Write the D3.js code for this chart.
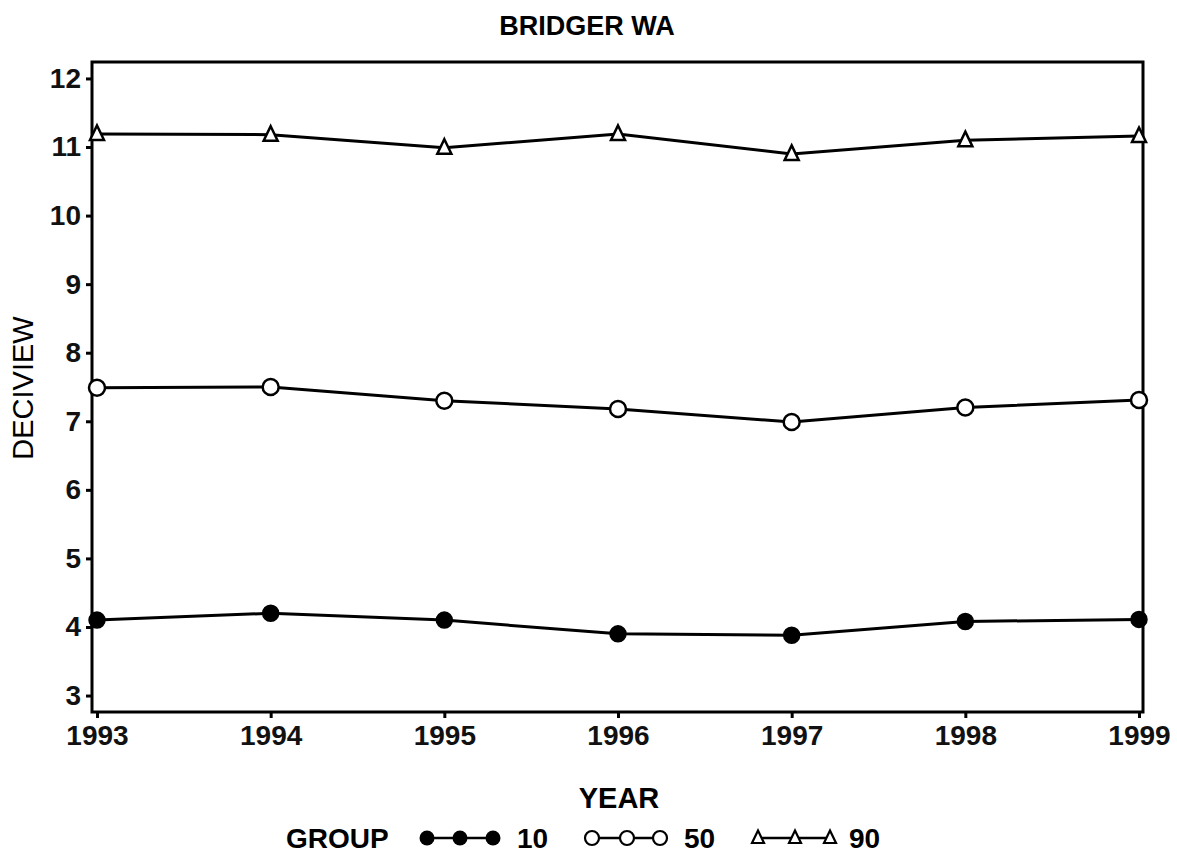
<!DOCTYPE html>
<html>
<head>
<meta charset="utf-8">
<script src="https://cdn.jsdelivr.net/npm/d3@7"></script>
<style>
  body { margin: 0; background: #fff; }
  svg { font-family: "Liberation Sans", Arial, sans-serif; }
</style>
</head>
<body>
<svg id="chart" width="1177" height="857"></svg>
<script>
// data
var years = [1993, 1994, 1995, 1996, 1997, 1998, 1999]
var groups = ["10", "50", "90"]
var p10 = [4.10, 4.20, 4.10, 3.90, 3.88, 4.08, 4.11]
var p50 = [7.49, 7.50, 7.30, 7.18, 6.99, 7.20, 7.31]
var p90 = [11.19, 11.18, 10.99, 11.19, 10.90, 11.10, 11.16]
var yTicks = [3, 4, 5, 6, 7, 8, 9, 10, 11, 12]

var series = [
    {name: groups[0], values: p10, marker: "dot"},
    {name: groups[1], values: p50, marker: "circle"},
    {name: groups[2], values: p90, marker: "triangle"}
]

var svg = d3.select("#chart")
var frame = {left: 92, right: 1143, top: 62, bottom: 712}

var x = d3.scaleLinear().domain([1993, 1999]).range([97, 1139])
var y = d3.scaleLinear().domain([2.76, 12.24]).range([frame.bottom, frame.top])

// frame
svg.append("rect")
    .attr("x", frame.left).attr("y", frame.top)
    .attr("width", frame.right - frame.left)
    .attr("height", frame.bottom - frame.top)
    .attr("fill", "none").attr("stroke", "#000").attr("stroke-width", 3)

// axes
var yAxis = svg.append("g")
    .attr("transform", "translate(" + frame.left + ",0)")
    .call(d3.axisLeft(y).tickValues(yTicks).tickSize(6).tickPadding(5).tickFormat(d3.format("d")))
var xAxis = svg.append("g")
    .attr("transform", "translate(0," + frame.bottom + ")")
    .call(d3.axisBottom(x).tickValues(years).tickSize(6).tickPadding(7).tickFormat(d3.format("d")))

;[xAxis, yAxis].forEach(function(ax) {
    ax.select(".domain").remove()
    ax.selectAll(".tick line").attr("stroke", "#000").attr("stroke-width", 3)
    ax.selectAll(".tick text")
        .attr("fill", "#111")
        .style("font-size", "28px")
        .style("font-weight", "bold")
        .style("font-family", "Liberation Sans, Arial, sans-serif")
})

// titles
svg.append("text").attr("x", 587).attr("y", 35)
    .attr("text-anchor", "middle")
    .style("font-size", "27px").style("font-weight", "bold")
    .text("BRIDGER WA")
svg.append("text").attr("x", 619).attr("y", 808)
    .attr("text-anchor", "middle")
    .style("font-size", "29px").style("font-weight", "bold")
    .text("YEAR")
svg.append("text")
    .attr("transform", "translate(33,388) rotate(-90)")
    .attr("text-anchor", "middle")
    .style("font-size", "29px")
    .text("DECIVIEW")

function drawMarker(g, type, cx, cy) {
    if (type === "dot") {
        g.append("circle").attr("cx", cx).attr("cy", cy).attr("r", 8)
            .attr("fill", "#000").attr("stroke", "#000").attr("stroke-width", 1.5)
    } else if (type === "circle") {
        g.append("circle").attr("cx", cx).attr("cy", cy).attr("r", 8)
            .attr("fill", "#fff").attr("stroke", "#000").attr("stroke-width", 2.5)
    } else {
        var s = 7
        g.append("path")
            .attr("d", "M" + cx + "," + (cy - s - 1.5) + "L" + (cx + s) + "," + (cy + s - 1) + "L" + (cx - s) + "," + (cy + s - 1) + "Z")
            .attr("fill", "#fff").attr("stroke", "#000").attr("stroke-width", 2.5)
    }
}

var line = d3.line()
    .x(function(d, i) { return x(years[i]) })
    .y(function(d) { return y(d) })

series.forEach(function(s) {
    svg.append("path").datum(s.values)
        .attr("d", line)
        .attr("fill", "none").attr("stroke", "#000").attr("stroke-width", 3)
    var g = svg.append("g")
    s.values.forEach(function(v, i) {
        drawMarker(g, s.marker, x(years[i]), y(v))
    })
})

// legend
var legY = 838
var leg = svg.append("g")
leg.append("text").attr("x", 286).attr("y", legY + 10)
    .style("font-size", "28px").style("font-weight", "bold").text("GROUP")
var legItems = [
    {xs: [427, 460, 493], labelX: 517},
    {xs: [592, 627, 660], labelX: 684},
    {xs: [758, 795, 830], labelX: 849}
]
series.forEach(function(s, k) {
    var it = legItems[k]
    var xs = it.xs
    leg.append("line").attr("x1", xs[0]).attr("x2", xs[2])
        .attr("y1", legY).attr("y2", legY)
        .attr("stroke", "#000").attr("stroke-width", 2.5)
    xs.forEach(function(px) {
        if (s.marker === "dot") {
            leg.append("circle").attr("cx", px).attr("cy", legY).attr("r", 7.5).attr("fill", "#000")
        } else if (s.marker === "circle") {
            leg.append("circle").attr("cx", px).attr("cy", legY).attr("r", 7)
                .attr("fill", "#fff").attr("stroke", "#000").attr("stroke-width", 2.2)
        } else {
            var t = 6
            leg.append("path")
                .attr("d", "M" + px + "," + (legY - t - 1.5) + "L" + (px + t) + "," + (legY + t - 1) + "L" + (px - t) + "," + (legY + t - 1) + "Z")
                .attr("fill", "#fff").attr("stroke", "#000").attr("stroke-width", 2.2)
        }
    })
    leg.append("text").attr("x", it.labelX).attr("y", legY + 10)
        .style("font-size", "28px").style("font-weight", "bold").text(s.name)
})
</script>
</body>
</html>
